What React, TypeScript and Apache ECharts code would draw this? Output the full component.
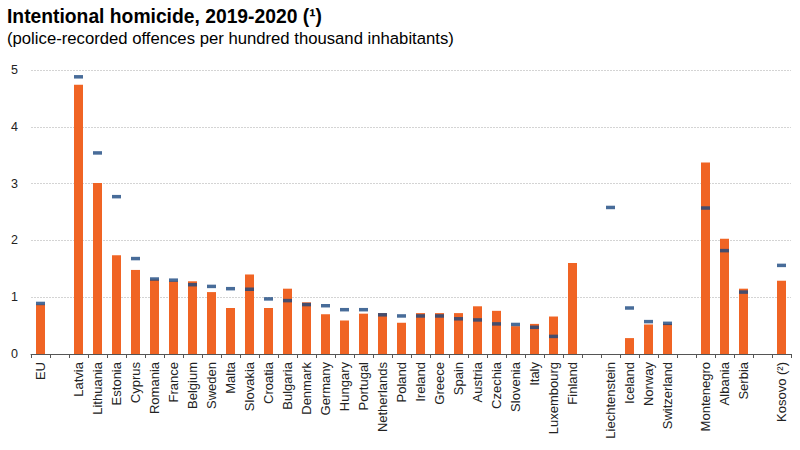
import React, { useEffect, useRef } from "react";
import * as echarts from "echarts";

const categories = [
  "EU", " ", "Latvia", "Lithuania", "Estonia", "Cyprus", "Romania", "France", "Belgium", "Sweden",
  "Malta", "Slovakia", "Croatia", "Bulgaria", "Denmark", "Germany", "Hungary", "Portugal", "Netherlands",
  "Poland", "Ireland", "Greece", "Spain", "Austria", "Czechia", "Slovenia", "Italy", "Luxembourg", "Finland",
  "  ", "Liechtenstein", "Iceland", "Norway", "Switzerland", "   ", "Montenegro", "Albania", "Serbia", "    ",
  "Kosovo (\u00B2)",
];

// 2020 (bars)
const values2020 = [
  0.87, null, 4.74, 3.01, 1.74, 1.48, 1.31, 1.28, 1.28, 1.09,
  0.81, 1.40, 0.81, 1.15, 0.91, 0.70, 0.59, 0.71, 0.72,
  0.55, 0.72, 0.72, 0.72, 0.84, 0.76, 0.49, 0.53, 0.66, 1.60,
  null, null, 0.28, 0.52, 0.53, null, 3.37, 2.03, 1.15, null,
  1.29,
];

// 2019 (markers)
const values2019 = [
  0.89, null, 4.88, 3.54, 2.77, 1.68, 1.32, 1.30, 1.22, 1.19,
  1.15, 1.14, 0.97, 0.94, 0.87, 0.85, 0.78, 0.78, 0.69,
  0.67, 0.67, 0.67, 0.62, 0.60, 0.53, 0.52, 0.47, 0.31, null,
  null, 2.58, 0.81, 0.57, 0.54, null, 2.57, 1.82, 1.09, null,
  1.56,
];

const yTicks = [0, 1, 2, 3, 4, 5];

const titleText = "Intentional homicide, 2019-2020 (\u00B9)";
const subtitleText = "(police-recorded offences per hundred thousand inhabitants)";

const FONT = 'Arial, "Liberation Sans", sans-serif';

export default function App() {
  const ref = useRef<HTMLDivElement>(null);
  useEffect(() => {
    if (!ref.current) return;
    const chart = echarts.init(ref.current, undefined, { renderer: "svg" });
    chart.setOption({
      animation: false,
      backgroundColor: "#ffffff",
      textStyle: { fontFamily: FONT },
      title: [
        {
          left: 7,
          top: 7,
          padding: 0,
          text: titleText,
          textStyle: { fontFamily: FONT, fontSize: 19.3, fontWeight: "bold", color: "#000" },
        },
        {
          left: 7,
          top: 30,
          padding: 0,
          text: subtitleText,
          textStyle: { fontFamily: FONT, fontSize: 16.7, fontWeight: "normal", color: "#000" },
        },
      ],
      grid: { left: 31, right: 9, top: 70, bottom: 96, containLabel: false },
      xAxis: {
        type: "category",
        data: categories,
        boundaryGap: true,
        axisLine: { lineStyle: { color: "#555", width: 1 } },
        axisTick: { show: true, interval: 0, length: 4, lineStyle: { color: "#555" } },
        axisLabel: {
          interval: 0,
          rotate: 90,
          margin: 8,
          fontSize: 13,
          color: "#222",
          fontFamily: FONT,
        },
        splitLine: { show: false },
      },
      yAxis: {
        type: "value",
        min: yTicks[0],
        max: yTicks[yTicks.length - 1],
        interval: 1,
        axisLine: { show: false },
        axisTick: { show: false },
        axisLabel: { fontSize: 12.5, color: "#222", margin: 13, fontFamily: FONT },
        splitLine: { lineStyle: { color: "#d4d4d4", type: [2, 1], width: 1 } },
      },
      series: [
        {
          name: "2020",
          type: "bar",
          data: values2020,
          barWidth: 9,
          itemStyle: { color: "#F06424" },
        },
        {
          name: "2019",
          type: "scatter",
          data: values2019,
          symbol: "rect",
          symbolSize: [9, 3.5],
          itemStyle: { color: "#1A4780" },
          z: 5,
        },
      ],
    });
    return () => chart.dispose();
  }, []);
  return (
    <div
      ref={ref}
      style={{ position: "fixed", left: 0, top: 0, width: 800, height: 450 }}
    />
  );
}
